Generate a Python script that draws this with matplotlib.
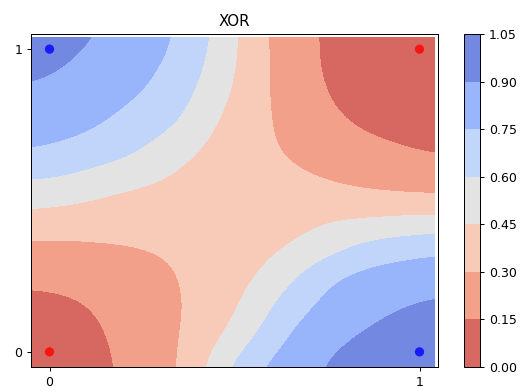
import numpy as np
import matplotlib
matplotlib.use("Agg")
import matplotlib.pyplot as plt
from matplotlib.colors import ListedColormap, BoundaryNorm
from matplotlib.patches import Rectangle

# grid coordinates of the sampled output surface (uniform 0.1 steps)
x_grid = [-0.05, 0.05, 0.15, 0.25, 0.35, 0.45, 0.55, 0.65, 0.75, 0.85, 0.95, 1.05]
y_grid = [-0.05, 0.05, 0.15, 0.25, 0.35, 0.45, 0.55, 0.65, 0.75, 0.85, 0.95, 1.05]

# model output, one row per y value (bottom to top)
z_y_m005 = [0.06, 0.09, 0.13, 0.20, 0.29, 0.53, 0.74, 0.835, 0.92, 0.95, 0.965, 0.975]
z_y_005 = [0.08, 0.10, 0.14, 0.22, 0.29, 0.42, 0.59, 0.77, 0.87, 0.92, 0.945, 0.955]
z_y_015 = [0.12, 0.13, 0.165, 0.235, 0.29, 0.36, 0.51, 0.69, 0.79, 0.86, 0.905, 0.925]
z_y_025 = [0.17, 0.18, 0.20, 0.24, 0.30, 0.37, 0.43, 0.57, 0.74, 0.80, 0.83, 0.855]
z_y_035 = [0.27, 0.275, 0.285, 0.302, 0.33, 0.36, 0.395, 0.44, 0.52, 0.635, 0.68, 0.71]
z_y_045 = [0.42, 0.40, 0.40, 0.395, 0.39, 0.385, 0.39, 0.40, 0.43, 0.43, 0.447, 0.455]
z_y_055 = [0.57, 0.545, 0.47, 0.44, 0.415, 0.395, 0.37, 0.34, 0.305, 0.275, 0.25, 0.235]
z_y_065 = [0.74, 0.71, 0.665, 0.583, 0.469, 0.40, 0.34, 0.288, 0.25, 0.215, 0.18, 0.152]
z_y_075 = [0.82, 0.79, 0.752, 0.677, 0.604, 0.44, 0.344, 0.26, 0.187, 0.128, 0.09, 0.07]
z_y_085 = [0.88, 0.85, 0.80, 0.755, 0.66, 0.508, 0.352, 0.235, 0.145, 0.09, 0.06, 0.05]
z_y_095 = [0.94, 0.905, 0.85, 0.795, 0.71, 0.55, 0.37, 0.215, 0.13, 0.08, 0.055, 0.045]
z_y_105 = [0.97, 0.935, 0.895, 0.84, 0.74, 0.58, 0.36, 0.21, 0.13, 0.08, 0.05, 0.04]

levels = [0.00, 0.15, 0.30, 0.45, 0.60, 0.75, 0.90, 1.05]

# XOR training points
pts_x = [0, 0, 1, 1]
pts_y = [0, 1, 0, 1]
pts_label = [0, 1, 1, 0]

Z = np.array([z_y_m005, z_y_005, z_y_015, z_y_025, z_y_035, z_y_045,
              z_y_055, z_y_065, z_y_075, z_y_085, z_y_095, z_y_105])

# filled-contour style banding: one colour per band (band midpoint on coolwarm_r)
base = plt.get_cmap("coolwarm_r")
mids = [(a + b) / 2 / levels[-1] for a, b in zip(levels[:-1], levels[1:])]
band_cmap = ListedColormap([base(m) for m in mids])
norm = BoundaryNorm(levels, band_cmap.N)

W, H, DPI = 526, 390, 90
fig = plt.figure(figsize=(W / DPI, H / DPI), dpi=DPI)
ax = fig.add_axes([31 / W, (H - 367) / H, (438 - 31) / W, (367 - 34) / H])
cax = fig.add_axes([464 / W, (H - 367) / H, 16 / W, (367 - 34) / H])

dx = x_grid[1] - x_grid[0]
dy = y_grid[1] - y_grid[0]
im = ax.imshow(Z, origin="lower", cmap=band_cmap, norm=norm, alpha=0.8,
               interpolation="bicubic", interpolation_stage="data",
               extent=[x_grid[0] - dx / 2, x_grid[-1] + dx / 2,
                       y_grid[0] - dy / 2, y_grid[-1] + dy / 2],
               aspect="auto")
clip = Rectangle((-0.05, -0.05), 1.09, 1.09, transform=ax.transData)
im.set_clip_path(clip)

colors = ["red" if l == 0 else "blue" for l in pts_label]
ax.scatter(pts_x, pts_y, c=colors, s=55, alpha=0.8, edgecolors="none")

ax.set_xlim(-0.05, 1.05)
ax.set_ylim(-0.05, 1.05)
ax.set_xticks([0, 1])
ax.set_yticks([0, 1])
ax.set_title("XOR")

cb = fig.colorbar(im, cax=cax, ticks=levels, format="%.2f")

fig.savefig("out.png", dpi=DPI)
